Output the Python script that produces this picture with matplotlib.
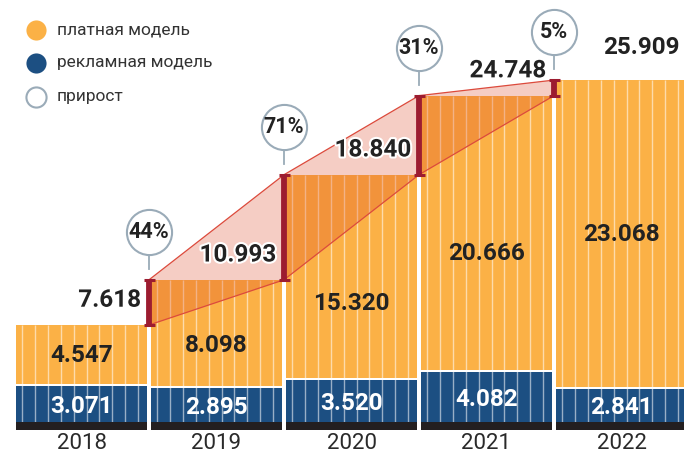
import matplotlib
matplotlib.use("Agg")
import matplotlib.pyplot as plt
import matplotlib.patheffects as pe
from matplotlib.patches import Polygon, Rectangle

years = ["2018", "2019", "2020", "2021", "2022"]
paid = [4.547, 8.098, 15.320, 20.666, 23.068]
ads = [3.071, 2.895, 3.520, 4.082, 2.841]
totals = [7.618, 10.993, 18.840, 24.748, 25.909]
growth = ["44%", "71%", "31%", "5%"]
legend_labels = ["платная модель", "рекламная модель", "прирост"]

ORANGE = "#fbb146"
BLUE = "#1c4f82"
BLACK = "#231f20"
DARKRED = "#9c1c30"
LINERED = "#dc4a3c"
OVER = (217/255, 63/255, 28/255, 0.26)
CIRC = "#9aabb8"
TXT = "#222222"

NUM = ["Roboto", "DejaVu Sans"]
NARROW = ["Liberation Sans Narrow", "Roboto", "DejaVu Sans"]

W, H = 684, 455
fig = plt.figure(figsize=(W/100, H/100), dpi=100)
ax = fig.add_axes([0, 0, 1, 1])
PX_X = 135.0      # pixels per x unit
PX_Y = 13.39      # pixels per y unit
ax.set_xlim(-81.5/PX_X, (W-81.5)/PX_X)
ax.set_ylim((427-H)/PX_Y, 427/PX_Y)
ax.axis("off")

bw = 131/PX_X
gap_y = 2.0/PX_Y
for i in range(len(years)):
    left = i - bw/2
    ax.add_patch(Rectangle((left, 0), bw, ads[i], facecolor=BLUE, edgecolor="none", zorder=1))
    ax.add_patch(Rectangle((left, ads[i] + gap_y), bw, totals[i] - ads[i] - gap_y,
                           facecolor=ORANGE, edgecolor="none", zorder=1))
    # vertical stripes
    for k in range(10):
        xs = left + 6/PX_X + k*12.9/PX_X
        ax.plot([xs, xs], [0, totals[i]], color="white", alpha=0.55, lw=1.0, zorder=2,
                solid_capstyle="butt")
    # black base strip
    ax.add_patch(Rectangle((left, -0.22), bw, 0.6, facecolor=BLACK, edgecolor="none", zorder=2))
    ax.text(i, -1.22, years[i], ha="center", va="center", fontsize=16,
            family=NARROW, color="#2a2a2a", zorder=6)
    # value labels
    ax.text(i, ads[i]/2, f"{ads[i]:.3f}", ha="center", va="center", fontsize=17.5,
            family=NUM, fontweight="bold", color="white", zorder=6)
    if 0 < i < len(years) - 1:
        lower = (totals[i-1] + totals[i]) / 2
    else:
        lower = totals[i]
    ax.text(i, (ads[i] + lower)/2, f"{paid[i]:.3f}", ha="center", va="center", fontsize=17.5,
            family=NUM, fontweight="bold", color=TXT, zorder=6)

# growth bands between red markers
for k in range(len(totals) - 2):
    xa, xb = k + 0.5, k + 1.5
    poly = Polygon([(xa, totals[k]), (xa, totals[k+1]), (xb, totals[k+2]), (xb, totals[k+1])],
                   closed=True, facecolor=OVER, edgecolor="none", zorder=3)
    ax.add_patch(poly)
    ax.plot([xa, xb], [totals[k+1], totals[k+2]], color=LINERED, lw=0.9, zorder=4)
    ax.plot([xa, xb], [totals[k], totals[k+1]], color=LINERED, lw=0.9, zorder=4)

# red growth markers, circles, total labels
cap = 5.5/PX_X
for k in range(len(totals) - 1):
    x = k + 0.5
    y0, y1 = totals[k], totals[k+1]
    ax.plot([x, x], [y0, y1], color=DARKRED, lw=4.2, zorder=5, solid_capstyle="butt")
    ax.plot([x-cap, x+cap], [y0, y0], color=DARKRED, lw=2.2, zorder=5, solid_capstyle="butt")
    ax.plot([x-cap, x+cap], [y1, y1], color=DARKRED, lw=2.2, zorder=5, solid_capstyle="butt")
    cy = y1 + 48/PX_Y
    ax.plot([x, x], [y1 + 11/PX_Y, cy - 22/PX_Y], color=CIRC, lw=1.3, zorder=5)
    ax.plot([x], [cy], marker="o", markersize=32.5, markerfacecolor="white",
            markeredgecolor=CIRC, markeredgewidth=1.5, zorder=6)
    ax.text(x, cy, growth[k], ha="center", va="center", fontsize=15.5, family=NARROW,
            fontweight="bold", color=TXT, zorder=7)
    ax.text(x - 8/PX_X, totals[k] + 1.85, f"{totals[k]:.3f}", ha="right", va="center",
            fontsize=17.5, family=NUM, fontweight="bold", color=TXT, zorder=7,
            path_effects=[pe.withStroke(linewidth=3, foreground="white")])

ax.text(4.15, totals[-1] + 2.4, f"{totals[-1]:.3f}", ha="center", va="center",
        fontsize=17.5, family=NUM, fontweight="bold", color=TXT, zorder=7)

# legend
leg_y = [30, 63, 97]
faces = [ORANGE, BLUE, "white"]
edges = [ORANGE, BLUE, CIRC]
for j in range(3):
    fx, fy = 36/W, 1 - leg_y[j]/H
    fig.add_artist(plt.Line2D([fx], [fy], marker="o", markersize=14.5, markerfacecolor=faces[j],
                              markeredgecolor=edges[j], markeredgewidth=1.5 if j == 2 else 0,
                              transform=fig.transFigure))
    fig.text(57/W, fy, legend_labels[j], ha="left", va="center", fontsize=12.5,
             family=["Roboto", "DejaVu Sans"], color="#333333")

fig.savefig("out.png", dpi=100)
